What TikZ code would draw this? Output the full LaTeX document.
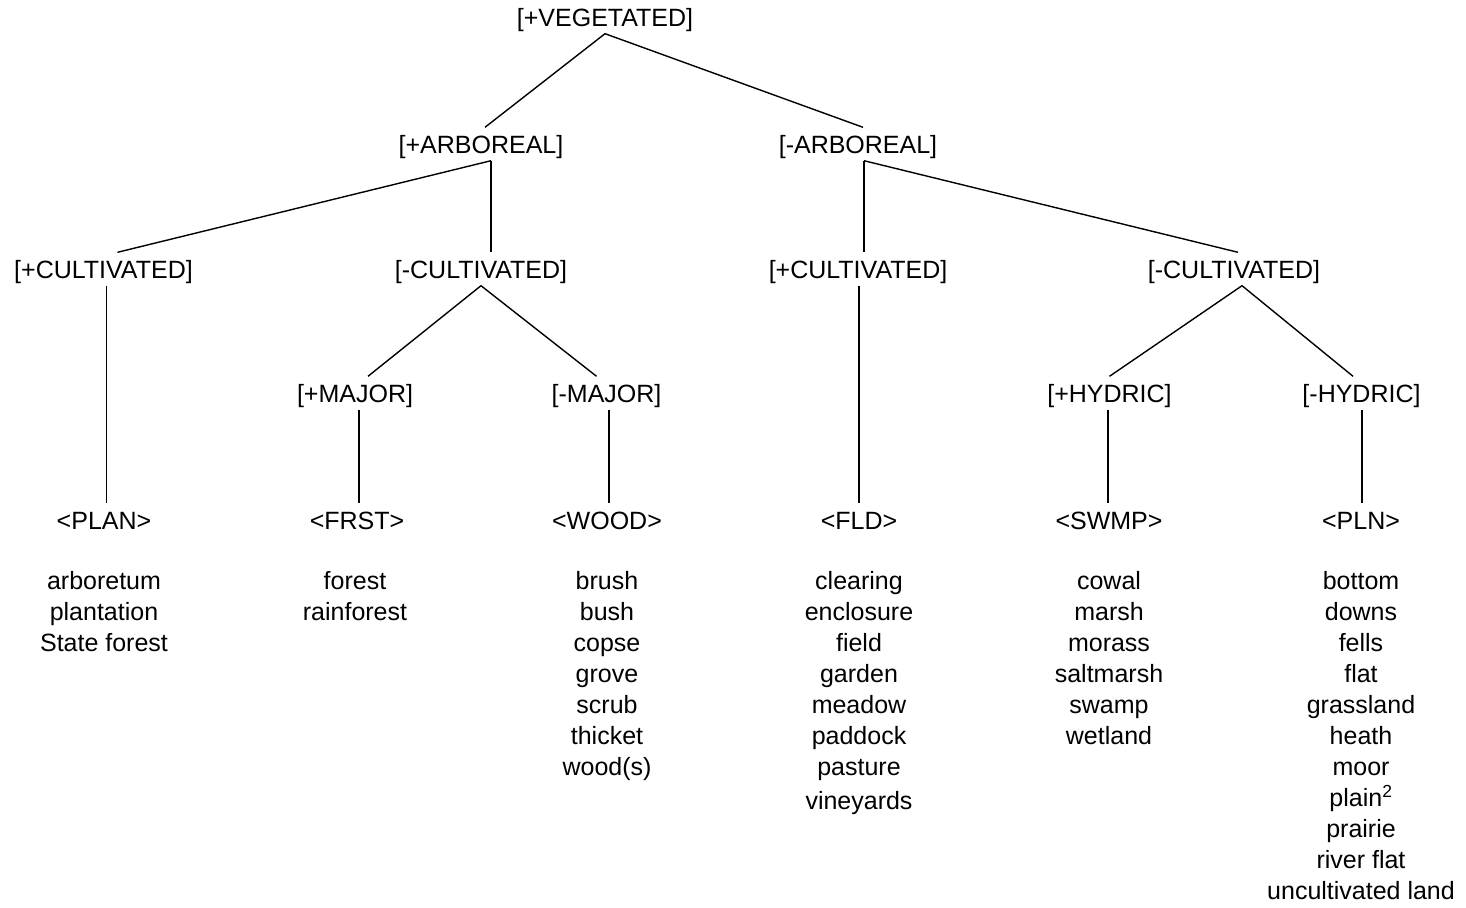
\documentclass[tikz,border=0pt]{standalone}
\usepackage{fontspec}
\setmainfont{Liberation Sans}
\begin{document}
\begin{tikzpicture}[x=1pt,y=-1pt,
  every node/.style={font=\fontsize{25}{31}\selectfont},
  feat/.style={inner sep=0pt, text height=26pt, text depth=7pt, anchor=base},
  wordlist/.style={inner sep=0pt, anchor=north, align=center},
  conn/.style={line width=1.4pt, black}]
\useasboundingbox (0,0) rectangle (1466,907);
% level 1
\node[feat] (veg) at (605,26.5) {[+VEGETATED]};
% level 2
\node[feat] (parb) at (481,153.5) {[+ARBOREAL]};
\node[feat] (marb) at (858,153.5) {[-ARBOREAL]};
% level 3
\node[feat] (pcula) at (103.5,278.5) {[+CULTIVATED]};
\node[feat] (mcula) at (481,278.5) {[-CULTIVATED]};
\node[feat] (pculb) at (858,278.5) {[+CULTIVATED]};
\node[feat] (mculb) at (1234,278.5) {[-CULTIVATED]};
% level 4
\node[feat] (pmaj) at (355,402.5) {[+MAJOR]};
\node[feat] (mmaj) at (606.5,402.5) {[-MAJOR]};
\node[feat] (phyd) at (1109.5,402.5) {[+HYDRIC]};
\node[feat] (mhyd) at (1361.5,402.5) {[-HYDRIC]};
% level 5
\node[feat] (plan) at (104,529.5) {<PLAN>};
\node[feat] (frst) at (357,529.5) {<FRST>};
\node[feat] (wood) at (607,529.5) {<WOOD>};
\node[feat] (fld) at (859,529.5) {<FLD>};
\node[feat] (swmp) at (1109,529.5) {<SWMP>};
\node[feat] (pln) at (1361,529.5) {<PLN>};
% word lists
\node[wordlist] (lplan) at (104,571) {arboretum\\plantation\\State forest};
\node[wordlist] (lfrst) at (355,571) {forest\\rainforest};
\node[wordlist] (lwood) at (607,571) {brush\\bush\\copse\\grove\\scrub\\thicket\\wood(s)};
\node[wordlist] (lfld) at (859,571) {clearing\\enclosure\\field\\garden\\meadow\\paddock\\pasture\\[3pt]vineyards};
\node[wordlist] (lswmp) at (1109,571) {cowal\\marsh\\morass\\saltmarsh\\swamp\\wetland};
\node[wordlist] (lpln) at (1361,571) {bottom\\downs\\fells\\flat\\grassland\\heath\\moor\\plain\textsuperscript{2}\\prairie\\river flat\\uncultivated land};
% connectors
\draw[conn] (veg.south) -- ([xshift=4pt]parb.north);
\draw[conn] (veg.south) -- ([xshift=5pt]marb.north);
\draw[conn] ([xshift=10pt]parb.south) -- ([xshift=14pt]pcula.north);
\draw[conn] ([xshift=10pt]parb.south) -- ([xshift=10pt]mcula.north);
\draw[conn] ([xshift=6pt]marb.south) -- ([xshift=6pt]pculb.north);
\draw[conn] ([xshift=6pt]marb.south) -- ([xshift=4pt]mculb.north);
\draw[conn] ([xshift=3pt]pcula.south) -- ([xshift=2.5pt]plan.north);
\draw[conn] (mcula.south) -- ([xshift=13pt]pmaj.north);
\draw[conn] (mcula.south) -- ([xshift=-10pt]mmaj.north);
\draw[conn] ([xshift=1pt]pculb.south) -- (fld.north);
\draw[conn] ([xshift=8pt]mculb.south) -- (phyd.north);
\draw[conn] ([xshift=8pt]mculb.south) -- ([xshift=-8.5pt]mhyd.north);
\draw[conn] ([xshift=4pt]pmaj.south) -- ([xshift=2pt]frst.north);
\draw[conn] ([xshift=2.5pt]mmaj.south) -- ([xshift=2pt]wood.north);
\draw[conn] ([xshift=-1.5pt]phyd.south) -- ([xshift=-1pt]swmp.north);
\draw[conn] ([xshift=0.5pt]mhyd.south) -- ([xshift=1pt]pln.north);
\end{tikzpicture}
\end{document}
